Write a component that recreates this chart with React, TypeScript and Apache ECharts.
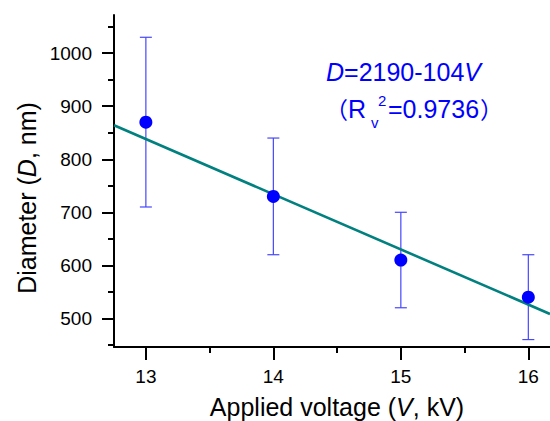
import { useEffect, useRef } from "react";
import * as echarts from "echarts";

// Measured diameters with their error ranges at each applied voltage
const voltages = [13, 14, 15, 16];
const diameters = [870, 730, 610, 540];
const errLow = [710, 620, 520, 460];
const errHigh = [1030, 840, 700, 620];

// Linear fit D = a + b·V
const fitIntercept = 2190;
const fitSlope = -104;

const xTickValues = [13, 14, 15, 16];
const xMinorValues = [13.5, 14.5, 15.5];
const yTickValues = [500, 600, 700, 800, 900, 1000];
const yMinorValues = [450, 550, 650, 750, 850, 950, 1050];

const X_MIN = 12.75;
const X_MAX = 16.17;
const Y_MIN = 446;
const Y_MAX = 1072;

const FONT = "'Liberation Sans', Arial, Helvetica, sans-serif";
const CJK = "'Noto Sans CJK SC', sans-serif";
const BLUE = "#0000ff";

export default function App() {
  const ref = useRef<HTMLDivElement>(null);

  useEffect(() => {
    if (!ref.current) return;
    const chart = echarts.init(ref.current, null, { renderer: "svg" });

    const fit = (v: number) => fitIntercept + fitSlope * v;
    const axisLine = { show: true, lineStyle: { color: "#000", width: 2 } };
    const plain = (v: number) => String(v);

    chart.setOption({
      animation: false,
      backgroundColor: "#fff",
      grid: { left: 114, top: 15, right: 0, bottom: 74 },
      xAxis: [
        {
          type: "value",
          min: X_MIN,
          max: X_MAX,
          position: "bottom",
          axisLine,
          axisTick: {
            show: true,
            customValues: xTickValues,
            length: 13,
            lineStyle: { color: "#000", width: 2 },
          },
          axisLabel: {
            customValues: xTickValues,
            formatter: plain,
            fontSize: 19,
            color: "#000",
            fontFamily: FONT,
            margin: 20,
          },
          splitLine: { show: false },
        },
        {
          type: "value",
          min: X_MIN,
          max: X_MAX,
          position: "bottom",
          axisLine: { show: false },
          axisTick: {
            show: true,
            customValues: xMinorValues,
            length: 6,
            lineStyle: { color: "#000", width: 2 },
          },
          axisLabel: { show: false },
          splitLine: { show: false },
        },
      ],
      yAxis: [
        {
          type: "value",
          min: Y_MIN,
          max: Y_MAX,
          position: "left",
          axisLine,
          axisTick: {
            show: true,
            customValues: yTickValues,
            length: 12,
            lineStyle: { color: "#000", width: 2 },
          },
          axisLabel: {
            customValues: yTickValues,
            formatter: plain,
            fontSize: 19,
            color: "#000",
            fontFamily: FONT,
            margin: 22,
          },
          splitLine: { show: false },
        },
        {
          type: "value",
          min: Y_MIN,
          max: Y_MAX,
          position: "left",
          axisLine: { show: false },
          axisTick: {
            show: true,
            customValues: yMinorValues,
            length: 6,
            lineStyle: { color: "#000", width: 2 },
          },
          axisLabel: { show: false },
          splitLine: { show: false },
        },
      ],
      series: [
        {
          type: "custom",
          name: "error",
          xAxisIndex: 0,
          yAxisIndex: 0,
          data: voltages.map((v, i) => [v, errLow[i], errHigh[i]]),
          encode: { x: 0, y: [1, 2] },
          renderItem: (_params: any, api: any) => {
            const x = api.value(0);
            const lo = api.coord([x, api.value(1)]);
            const hi = api.coord([x, api.value(2)]);
            const half = 6;
            const style = { stroke: "#4646ff", lineWidth: 1.2 };
            return {
              type: "group",
              children: [
                { type: "line", shape: { x1: lo[0], y1: lo[1], x2: hi[0], y2: hi[1] }, style },
                { type: "line", shape: { x1: lo[0] - half, y1: lo[1], x2: lo[0] + half, y2: lo[1] }, style },
                { type: "line", shape: { x1: hi[0] - half, y1: hi[1], x2: hi[0] + half, y2: hi[1] }, style },
              ],
            };
          },
          z: 2,
        },
        {
          type: "line",
          name: "fit",
          xAxisIndex: 0,
          yAxisIndex: 0,
          data: [
            [X_MIN, fit(X_MIN)],
            [X_MAX, fit(X_MAX)],
          ],
          symbol: "none",
          lineStyle: { color: "#00807f", width: 2.6 },
          clip: true,
          z: 3,
        },
        {
          type: "scatter",
          name: "diameter",
          xAxisIndex: 0,
          yAxisIndex: 0,
          data: voltages.map((v, i) => [v, diameters[i]]),
          symbol: "circle",
          symbolSize: 13,
          itemStyle: { color: BLUE, opacity: 1 },
          z: 4,
        },
      ],
      graphic: [
        {
          type: "text",
          x: 337,
          y: 407,
          style: {
            text: "{n|Applied voltage (}{i|V}{n|, kV)}",
            align: "center",
            verticalAlign: "middle",
            rich: {
              n: { fontSize: 25, fontFamily: FONT, fill: "#000" },
              i: { fontSize: 25, fontFamily: FONT, fontStyle: "italic", fill: "#000" },
            },
          },
        },
        {
          type: "text",
          x: 27,
          y: 198,
          rotation: Math.PI / 2,
          style: {
            text: "{n|Diameter (}{i|D}{n|, nm)}",
            align: "center",
            verticalAlign: "middle",
            rich: {
              n: { fontSize: 25, fontFamily: FONT, fill: "#000" },
              i: { fontSize: 25, fontFamily: FONT, fontStyle: "italic", fill: "#000" },
            },
          },
        },
        {
          type: "text",
          x: 326,
          y: 72,
          style: {
            text: "{i|D}{n|=2190-104}{i|V}",
            align: "left",
            verticalAlign: "middle",
            rich: {
              n: { fontSize: 25, fontFamily: FONT, fill: BLUE },
              i: { fontSize: 25, fontFamily: FONT, fontStyle: "italic", fill: BLUE },
            },
          },
        },
        {
          type: "text",
          x: 348,
          y: 109,
          style: { text: "（", align: "right", verticalAlign: "middle", fontSize: 23, fontFamily: CJK, fill: BLUE },
        },
        {
          type: "text",
          x: 348,
          y: 109,
          style: { text: "R", align: "left", verticalAlign: "middle", fontSize: 25, fontFamily: FONT, fill: BLUE },
        },
        {
          type: "text",
          x: 371,
          y: 122,
          style: { text: "v", align: "left", verticalAlign: "middle", fontSize: 15, fontFamily: FONT, fill: BLUE },
        },
        {
          type: "text",
          x: 378,
          y: 100,
          style: { text: "2", align: "left", verticalAlign: "middle", fontSize: 15, fontFamily: FONT, fill: BLUE },
        },
        {
          type: "text",
          x: 388,
          y: 109,
          style: { text: "=0.9736", align: "left", verticalAlign: "middle", fontSize: 25, fontFamily: FONT, fill: BLUE },
        },
        {
          type: "text",
          x: 480,
          y: 109,
          style: { text: "）", align: "left", verticalAlign: "middle", fontSize: 23, fontFamily: CJK, fill: BLUE },
        },
      ],
    });

    return () => chart.dispose();
  }, []);

  return (
    <div
      ref={ref}
      style={{ position: "absolute", left: 0, top: 0, width: 550, height: 421 }}
    />
  );
}
